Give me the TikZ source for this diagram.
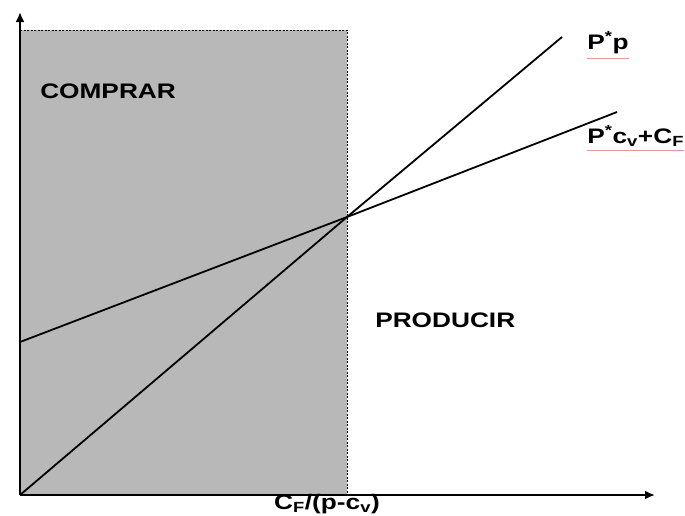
\documentclass[tikz,border=0pt]{standalone}
\usepackage{fontspec}
\setmainfont{Liberation Sans}
\usetikzlibrary{arrows.meta}
\definecolor{areagray}{RGB}{184,184,184}
\definecolor{spellred}{RGB}{230,150,150}
\tikzset{
  axis/.style={line width=2pt, -{Latex[length=10pt,width=9pt]}},
  costline/.style={line width=1.8pt},
  edge/.style={line width=0.7pt, dashed, dash pattern=on 2pt off 1.5pt},
  lbl/.style={font=\bfseries\fontsize{21}{21}\selectfont, xscale=1.25, inner sep=0pt},
  spell/.style={spellred, line width=0.6pt}
}
\begin{document}
\begin{tikzpicture}[x=1pt,y=-1pt]
\useasboundingbox (0,0) rectangle (685,515);
\coordinate (O) at (20,495);
\coordinate (Ytip) at (20,12);
\coordinate (Xtip) at (655,495);
\coordinate (TL) at (20,30);
\coordinate (TR) at (347,30);
\coordinate (BR) at (347,495);
\coordinate (X) at (347,217);
\coordinate (L1end) at (562,37);
\coordinate (L2start) at (20,342);
\coordinate (L2end) at (617,112);
\fill[areagray] (TL) rectangle (BR);
\draw[edge] (TL) -- (TR) -- (BR);
\draw[costline] (O) -- (X) -- (L1end);
\draw[costline] (L2start) -- (X) -- (L2end);
\draw[axis] (O) -- (Ytip);
\draw[axis] (O) -- (Xtip);
\node[lbl, anchor=base west] (comprar) at (40,98) {COMPRAR};
\node[lbl, anchor=base west] (producir) at (375,327) {PRODUCIR};
\node[lbl, anchor=base west] (pp) at (587,49) {P\textsuperscript{*}p};
\node[lbl, anchor=base west] (pcv) at (587,143) {P\textsuperscript{*}c\textsubscript{v}+C\textsubscript{F}};
\node[lbl, anchor=base] (cf) at (327,509) {C\textsubscript{F}/(p-c\textsubscript{v})};
\draw[spell] (pp.base west) ++(0,9) coordinate (u1) -- (u1 -| pp.east);
\draw[spell] (pcv.base west) ++(0,7) coordinate (u2) -- (u2 -| pcv.east);
\end{tikzpicture}
\end{document}
